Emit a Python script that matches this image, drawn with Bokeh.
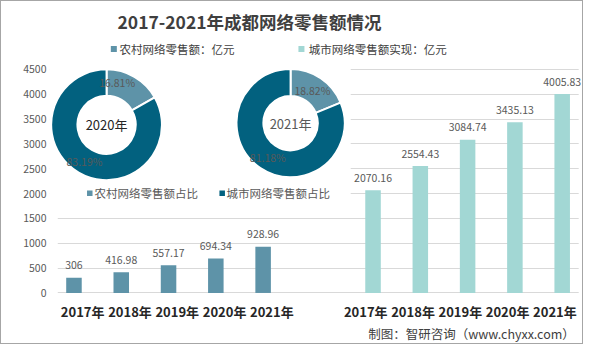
import math
from bokeh.plotting import figure
from bokeh.models import Range1d, FixedTicker, ColumnDataSource, LabelSet, Label
from bokeh.core.properties import value
from bokeh.embed import file_html
from bokeh.resources import INLINE

# ---------------- data ----------------
years = ["2017年", "2018年", "2019年", "2020年", "2021年"]
rural_sales = [306, 416.98, 557.17, 694.34, 928.96]
urban_sales = [2070.16, 2554.43, 3084.74, 3435.13, 4005.83]
donut_years = ["2020年", "2021年"]
rural_share = [16.81, 18.82]
urban_share = [83.19, 81.18]
y_ticks = [0, 500, 1000, 1500, 2000, 2500, 3000, 3500, 4000, 4500]
title_text = "2017-2021年成都网络零售额情况"
rural_sales_name = "农村网络零售额：亿元"
urban_sales_name = "城市网络零售额实现：亿元"
rural_share_name = "农村网络零售额占比"
urban_share_name = "城市网络零售额占比"
source_note = "制图：智研咨询（www.chyxx.com）"

# ---------------- styles / layout ----------------
FONT = "Noto Sans CJK SC"
RURAL = "#5E93A8"
URBAN = "#02617F"
URBAN_BAR = "#A2D7D4"
GRID = "#D9D9D9"

W, H = 583, 344
KX, KY = W / 601, H / 362
FL, FR, FT, FB = 48, W, 0, H   # plot frame (canvas px)


def cx(r):
    return r * KX


def cy(r):
    return r * KY


SLOT = 48.75 * KX
X0 = cx(74.7)


def dx(r):
    return (cx(r) - X0) / SLOT


PPU = (cy(306.7) - cy(71.5)) / 4500.0
Y0 = cy(306.7)


def dy(r):
    return (Y0 - cy(r)) / PPU


RIGHT_OFFSET = (383 - 74.7) / 48.75
BAR_W = 16 / 48.75
XS, XE = (FL - X0) / SLOT, (FR - X0) / SLOT
YS, YE = (Y0 - FB) / PPU, (Y0 - FT) / PPU

p = figure(width=W, height=H, x_range=Range1d(XS, XE), y_range=Range1d(YS, YE),
           output_backend="svg", toolbar_location=None, x_axis_location=None,
           min_border_left=FL, min_border_right=0, min_border_top=0, min_border_bottom=0)
p.styles = {"border": "1px solid #A6A6A6"}
p.outline_line_color = None
p.background_fill_color = "white"
p.border_fill_color = "white"

# y axis / grid
p.yaxis.ticker = FixedTicker(ticks=y_ticks)
p.yaxis.axis_line_color = None
p.yaxis.major_tick_line_color = None
p.yaxis.minor_tick_line_color = None
p.yaxis.major_tick_out = 0
p.yaxis.major_tick_in = 0
p.yaxis.major_label_standoff = 3
p.yaxis.major_label_text_font = FONT
p.yaxis.major_label_text_font_size = "10.5px"
p.yaxis.major_label_text_color = "#595959"
p.ygrid.grid_line_color = GRID
p.ygrid.ticker = FixedTicker(ticks=y_ticks)
p.xgrid.visible = False

# white masks (hide gridlines behind donut area and outside plot areas)
p.quad(left=[XS - 1, XS - 1, dx(595)],
       right=[dx(360), dx(58), XE + 1],
       bottom=[1750, YS - 100, YS - 100],
       top=[YE + 100, 1750, YE + 100],
       fill_color="white", line_color=None)

# bars
left_pos = [float(i) for i in range(len(years))]
right_pos = [i + RIGHT_OFFSET for i in range(len(years))]
src_l = ColumnDataSource(dict(x=left_pos, top=rural_sales, label=[f"{v:g}" for v in rural_sales]))
src_r = ColumnDataSource(dict(x=right_pos, top=urban_sales, label=[f"{v:g}" for v in urban_sales]))
p.vbar(x="x", top="top", bottom=0, width=BAR_W, source=src_l, fill_color=RURAL, line_color=None)
p.vbar(x="x", top="top", bottom=0, width=BAR_W, source=src_r, fill_color=URBAN_BAR, line_color=None)
for src in (src_l, src_r):
    p.add_layout(LabelSet(x="x", y="top", text="label", source=src, y_offset=13 * KY,
                          text_align="center", text_baseline="middle",
                          text_font=value(FONT), text_font_size=value("10.5px"),
                          text_color=value("#595959")))

# category (year) labels under each chart
shift_l = 9 / 48.75
shift_r = -7.5 / 48.75
src_cat = ColumnDataSource(dict(
    x=[x + shift_l for x in left_pos] + [x + shift_r for x in right_pos],
    y=[dy(326)] * (2 * len(years)),
    t=years + years))
p.add_layout(LabelSet(x="x", y="y", text="t", source=src_cat,
                      text_align="center", text_baseline="middle",
                      text_font=value(FONT), text_font_size=value("13px"),
                      text_font_style=value("bold"), text_color=value("#262626")))

# donuts
centers = [(108.3, 129.7), (298.0, 128.0)]
outer_r = [57.7 * 0.96, 56.3 * 0.96]
inner_r = [30.3 * 0.96, 28.3 * 0.96]
wx, wy, ws, we, wc, wi, wo = [], [], [], [], [], [], []
for k in range(len(donut_years)):
    start = math.pi / 2
    for share, col in ((rural_share[k], RURAL), (urban_share[k], URBAN)):
        end = start - 2 * math.pi * share / 100.0
        wx.append(dx(centers[k][0]))
        wy.append(dy(centers[k][1]))
        ws.append(start)
        we.append(end)
        wc.append(col)
        wi.append(inner_r[k])
        wo.append(outer_r[k])
        start = end
src_d = ColumnDataSource(dict(x=wx, y=wy, s=ws, e=we, c=wc, ir=wi, orr=wo))
p.annular_wedge(x="x", y="y", inner_radius="ir", outer_radius="orr",
                inner_radius_units="screen", outer_radius_units="screen",
                start_angle="s", end_angle="e", direction="clock",
                fill_color="c", line_color="white", line_width=2, source=src_d)

# donut center texts
center_colors = ["#262626", "#595959"]
for k in range(len(donut_years)):
    p.add_layout(Label(x=dx(centers[k][0]), y=dy(centers[k][1]), text=donut_years[k],
                       text_align="center", text_baseline="middle",
                       text_font=FONT, text_font_size="13px", text_color=center_colors[k]))

# donut percentage labels
pct_pos = [[(119.2, 85.0), (85.5, 168.0)], [(320.5, 93.3), (274.5, 164.0)]]
for k in range(len(donut_years)):
    for (px, py), v in zip(pct_pos[k], (rural_share[k], urban_share[k])):
        p.add_layout(Label(x=dx(px), y=dy(py), text=f"{v:.2f}%",
                           text_align="center", text_baseline="middle",
                           text_font=FONT, text_font_size="10.5px", text_color="#595959"))

# donut legend
p.scatter(x=[dx(91), dx(227.5)], y=[dy(201.7), dy(201.7)], marker="square", size=5.5,
          fill_color=[RURAL, URBAN], line_color=None)
for tx, txt in ((96, rural_share_name), (232, urban_share_name)):
    p.add_layout(Label(x=dx(tx), y=dy(201.7), text=txt, text_align="left", text_baseline="middle",
                       text_font=FONT, text_font_size="11.5px", text_color="#595959"))

# top legend
p.scatter(x=[dx(115.8), dx(309.2)], y=[dy(50), dy(50)], marker="square", size=6,
          fill_color=[RURAL, URBAN_BAR], line_color=None)
for tx, txt in ((121.7, rural_sales_name), (316.7, urban_sales_name)):
    p.add_layout(Label(x=dx(tx), y=dy(50), text=txt, text_align="left", text_baseline="middle",
                       text_font=FONT, text_font_size="11.5px", text_color="#404040"))

# title
p.add_layout(Label(x=dx(255.7), y=dy(21), text=title_text, text_align="center", text_baseline="middle",
                   text_font=FONT, text_font_size="17.5px", text_font_style="bold",
                   text_color="#3F3F3F"))

# source note
p.add_layout(Label(x=dx(591), y=dy(349), text=source_note, text_align="right", text_baseline="middle",
                   text_font=FONT, text_font_size="12.5px", text_color="#404040"))

open("out.html", "w").write(file_html(p, INLINE))
